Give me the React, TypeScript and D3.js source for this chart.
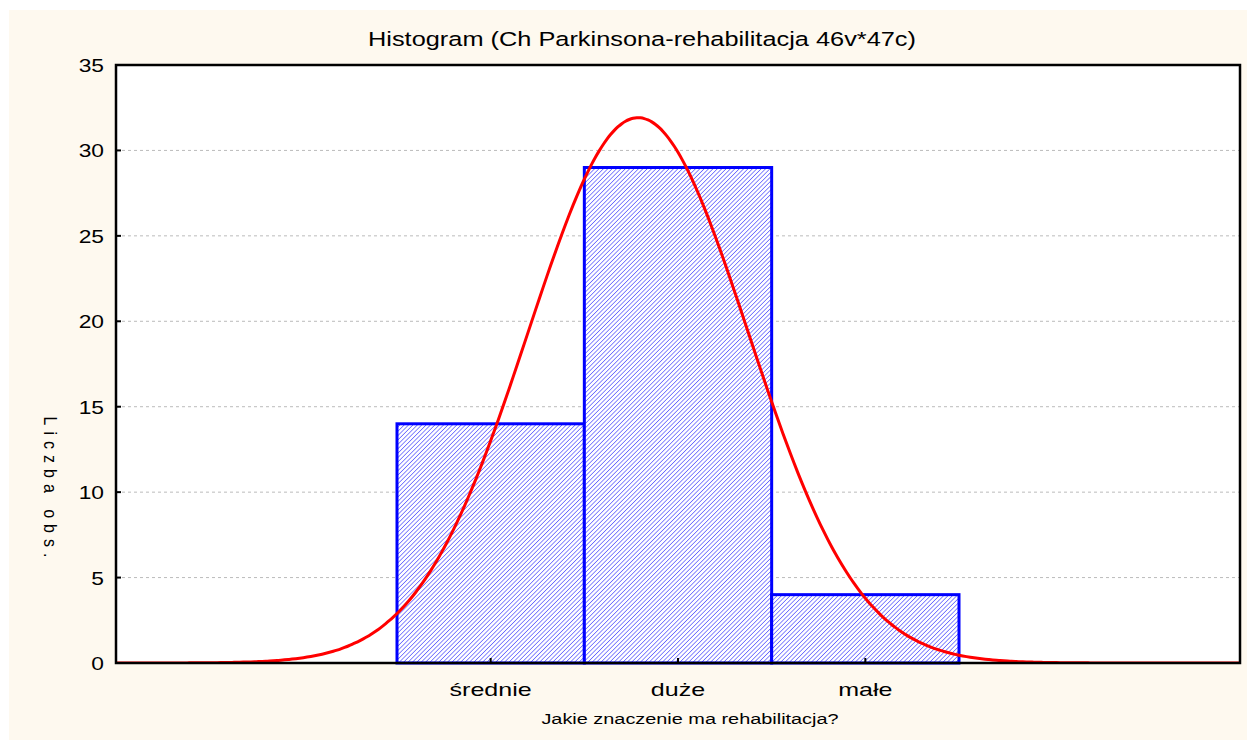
import React from 'react';
import * as d3 from 'd3';

// histogram data
const categories = ['średnie', 'duże', 'małe'];
const codes = [1, 2, 3];
const counts = [14, 29, 4];
const yTicks = [0, 5, 10, 15, 20, 25, 30, 35];
const gridTicks = [5, 10, 15, 20, 25, 30];

const W = 1247;
const H = 740;
const left = 116, right = 1240, top = 65, bottom = 663;
const font = 'Arial, "Liberation Sans", sans-serif';

// fitted normal from the counts
const n = d3.sum(counts);
const mean = d3.sum(codes.map((c, i) => c * counts[i])) / n;
const sd = Math.sqrt(d3.sum(codes.map((c, i) => counts[i] * (c - mean) ** 2)) / (n - 1));

// the original's text is a bit wider than Arial, so stretch it sideways
const WideText = ({ x, y, sx = 1.3, size, anchor = 'middle', children }) => (
  <text transform={`translate(${x},${y}) scale(${sx},1)`} textAnchor={anchor} fontFamily={font} fontSize={size} fill="#000">
    {children}
  </text>
);

const App = () => {
  // bin units: code c sits at c+1, bars one unit wide
  const x = d3.scaleLinear().domain([0, 6]).range([left, right]);
  const y = d3.scaleLinear().domain([0, 35]).range([bottom, top]);

  const curvePts = d3.range(0, 6.001, 0.02).map(u => {
    const v = u - 1;
    const dens = n / (sd * Math.sqrt(2 * Math.PI)) * Math.exp(-((v - mean) ** 2) / (2 * sd * sd));
    return [u, dens];
  });
  const line = d3.line().x(d => x(d[0])).y(d => y(d[1])).curve(d3.curveBasis);

  return (
    <svg width={W} height={H} style={{ position: 'absolute', left: 0, top: 0 }}>
      <defs>
        <pattern id="hatch" width="3.1" height="3.1" patternUnits="userSpaceOnUse" patternTransform="rotate(45)">
          <rect width="3.1" height="3.1" fill="#ffffff" />
          <line x1="0" y1="0" x2="0" y2="3.1" stroke="#3a3aff" strokeWidth="1.2" />
        </pattern>
        <clipPath id="plot">
          <rect x={left} y={top} width={right - left} height={bottom - top} />
        </clipPath>
      </defs>
      <rect x={0} y={0} width={W} height={H} fill="#ffffff" />
      <rect x={9} y={10} width={W - 9} height={H - 10} fill="#fef9ef" />
      <rect x={left} y={top} width={right - left} height={bottom - top} fill="#ffffff" />

      {gridTicks.map(t => (
        <line key={t} x1={left} x2={right} y1={y(t)} y2={y(t)} stroke="#bbbbbb" strokeWidth={1} strokeDasharray="3,3" />
      ))}

      {counts.map((c, i) => (
        <rect key={i} x={x(codes[i] + 0.5)} y={y(c)} width={x(codes[i] + 1.5) - x(codes[i] + 0.5)} height={y(0) - y(c)}
          fill="url(#hatch)" stroke="#0000ff" strokeWidth={3} />
      ))}

      <path d={line(curvePts) || ''} fill="none" stroke="#ff0000" strokeWidth={3} clipPath="url(#plot)" />

      <rect x={left} y={top} width={right - left} height={bottom - top} fill="none" stroke="#000" strokeWidth={2.5} />

      {yTicks.map(t => (
        <g key={t}>
          <line x1={left} x2={left + 5} y1={y(t)} y2={y(t)} stroke="#000" strokeWidth={2} />
          <WideText x={104} y={y(t) + 7} sx={1.2} size={19} anchor="end">{t}</WideText>
        </g>
      ))}

      {categories.map((c, i) => (
        <g key={c}>
          <line x1={x(codes[i] + 1)} x2={x(codes[i] + 1)} y1={bottom} y2={bottom - 5} stroke="#000" strokeWidth={2} />
          <WideText x={x(codes[i] + 1)} y={696} sx={1.32} size={19}>{c}</WideText>
        </g>
      ))}

      <WideText x={642} y={46} sx={1.3} size={19.5}>Histogram (Ch Parkinsona-rehabilitacja 46v*47c)</WideText>
      <WideText x={690} y={724} sx={1.42} size={14}>Jakie znaczenie ma rehabilitacja?</WideText>
      {/* rotated title; local y becomes screen x, so stretch it a little like the others */}
      <text transform="translate(44,490) rotate(90) scale(1,1.2)" textAnchor="middle" fontFamily={font} fontSize={16} letterSpacing={6}>Liczba obs.</text>
    </svg>
  );
};

export default App;
